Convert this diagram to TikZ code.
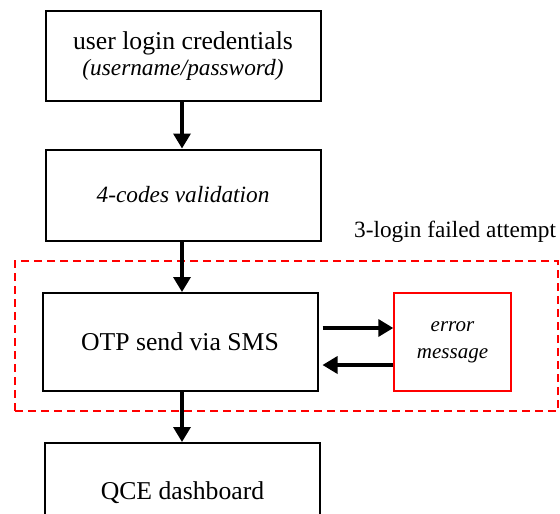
\documentclass[tikz,border=0pt]{standalone}
\usepackage{fontspec}
\setmainfont{Liberation Serif}
\usetikzlibrary{arrows.meta}
\begin{document}
\begin{tikzpicture}[x=1pt,y=-1pt,
  stepbox/.style={draw=black,line width=2pt,minimum width=275pt,inner sep=0pt,align=center},
  errbox/.style={draw=red,line width=1.4pt,minimum width=117pt,minimum height=98pt,inner sep=0pt,align=center,font=\fontsize{21}{26}\selectfont\itshape},
  group/.style={draw=red,line width=2.8pt,dash pattern=on 8pt off 5pt,minimum width=543pt,minimum height=150pt,inner sep=0pt},
  flow/.style={line width=3.4pt,-{Triangle[length=15pt,width=17pt]}},
  big/.style={font=\fontsize{25.7}{29}\selectfont},
  mid/.style={font=\fontsize{23.3}{27}\selectfont}]
\useasboundingbox (0,0) rectangle (560,514);
\clip (0,0) rectangle (560,514);

% grouping frame for the retry loop
\node[group] (loop) at (286.5,336) {};
\node[mid,anchor=base west,inner sep=0pt] (fail) at (354,237.5) {3-login failed attempt};

% process steps
\node[stepbox,minimum height=90pt] (cred) at (183,56)
  {\fontsize{25.7}{29}\selectfont user login credentials\\[3pt]
   \fontsize{23.3}{27}\selectfont\itshape (username/password)};
\node[stepbox,minimum height=91pt,mid,font=\fontsize{23.3}{27}\selectfont\itshape] (valid) at (183,195) {4-codes validation};
\node[stepbox,minimum height=98pt,big] (otp) at (180,342) {OTP send via SMS};
\node[errbox] (err) at (452.5,342) {error\\[1pt]message};
\node[stepbox,minimum height=100pt,big] (dash) at (182.5,493) {QCE dashboard};

% connectors
\draw[flow] (cred.south -| 182,0) -- (valid.north -| 182,0);
\draw[flow] (valid.south -| 182,0) -- (otp.north -| 182,0);
\draw[flow] (otp.south -| 182,0) -- (dash.north -| 182,0);
\draw[flow] ([xshift=4pt,yshift=14pt]otp.east) -- ([yshift=14pt]err.west);
\draw[flow] ([yshift=-23pt]err.west) -- ([xshift=4pt,yshift=-23pt]otp.east);
\end{tikzpicture}
\end{document}
